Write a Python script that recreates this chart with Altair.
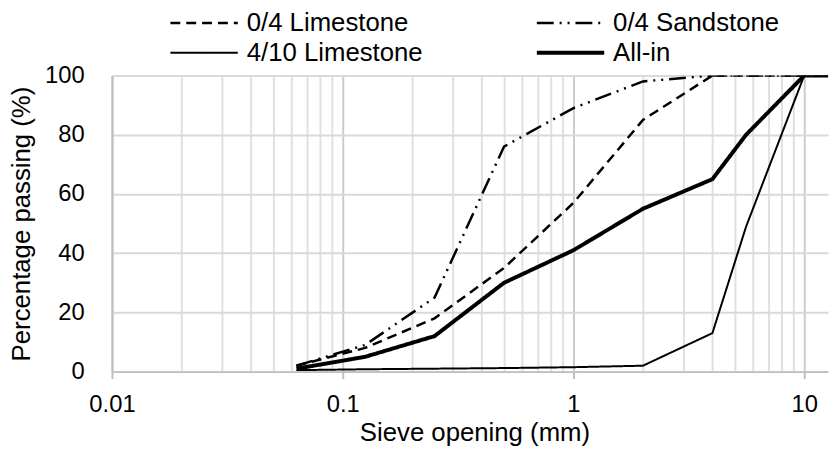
import altair as alt
import pandas as pd

# Sieve openings (mm) and percentage passing for each material
sieve = [0.063, 0.125, 0.25, 0.5, 1, 2, 4, 5.6, 10, 14]
limestone_04 = [2, 8, 18, 35, 57, 85, 100, 100, 100, 100]
sandstone_04 = [2, 9, 25, 76, 89, 98, 100, 100, 100, 100]
limestone_410 = [0.5, 0.8, 1.0, 1.2, 1.5, 2.0, 13, 49, 100, 100]
all_in = [1, 5, 12, 30, 41, 55, 65, 80, 100, 100]

series_names = ["0/4 Limestone", "0/4 Sandstone", "4/10 Limestone", "All-in"]
series_values = [limestone_04, sandstone_04, limestone_410, all_in]
series_dash = [[10, 6], [17, 6, 2, 6, 2, 6], [1, 0], [1, 0]]
series_width = [2.5, 2.5, 2, 4]

x_grid = [0.01, 0.02, 0.03, 0.04, 0.05, 0.06, 0.07, 0.08, 0.09,
          0.1, 0.2, 0.3, 0.4, 0.5, 0.6, 0.7, 0.8, 0.9,
          1, 2, 3, 4, 5, 6, 7, 8, 9, 10]
y_ticks = [0, 20, 40, 60, 80, 100]

rows = []
for name, vals in zip(series_names, series_values):
    for s, v in zip(sieve, vals):
        rows.append({"sieve": s, "passing": v, "series": name})
df = pd.DataFrame(rows)

decade_test = "indexof([0.01, 0.1, 1, 10], datum.value) >= 0"
FONT = "Liberation Sans"

chart = alt.Chart(df).mark_line(color="black", clip=True).encode(
    x=alt.X(
        "sieve:Q",
        scale=alt.Scale(type="log", domain=[0.01, 12.68], nice=False),
        axis=alt.Axis(
            title="Sieve opening (mm)",
            values=x_grid,
            grid=True,
            gridColor={"condition": {"test": decade_test, "value": "#cccccc"}, "value": "#e0e0e0"},
            gridWidth=2,
            labelExpr=f"{decade_test} ? '' + datum.value : ''",
            labelFlush=False,
            labelOverlap=False,
            labelFontSize=24,
            labelPadding=14,
            tickSize=7,
            tickWidth=2,
            tickColor="#bfbfbf",
            tickOpacity={"condition": {"test": decade_test, "value": 1}, "value": 0},
            domainColor="#bfbfbf",
            domainWidth=2,
            titleFontSize=26,
            titlePadding=4,
            titleX=366,
        ),
    ),
    y=alt.Y(
        "passing:Q",
        scale=alt.Scale(domain=[0, 100], nice=False),
        axis=alt.Axis(
            title="Percentage passing (%)",
            values=y_ticks,
            grid=True,
            gridColor="#d9d9d9",
            gridWidth=2,
            tickSize=0,
            labelFontSize=24,
            labelPadding=28,
            domainColor="#bfbfbf",
            domainWidth=2,
            titleFontSize=26,
            titlePadding=10,
        ),
    ),
    strokeDash=alt.StrokeDash(
        "series:N",
        scale=alt.Scale(type="ordinal", domain=series_names, range=series_dash),
        legend=alt.Legend(title=None),
    ),
    strokeWidth=alt.StrokeWidth(
        "series:N",
        scale=alt.Scale(type="ordinal", domain=series_names, range=series_width),
        legend=alt.Legend(title=None),
    ),
).properties(
    width=723,
    height=299,
    autosize=alt.AutoSizeParams(type="none"),
    padding={"left": 105, "top": 66, "right": 2, "bottom": 80},
).configure(
    font=FONT,
).configure_view(
    stroke=None,
).configure_axis(
    labelColor="black",
    titleColor="black",
    titleFontWeight="normal",
    labelFont=FONT,
    titleFont=FONT,
).configure_legend(
    orient="none",
    direction="horizontal",
    legendX=80,
    legendY=-66,
    columns=2,
    columnPadding=107,
    rowPadding=4,
    labelFontSize=26,
    labelFont=FONT,
    labelColor="black",
    labelOffset=30,
    labelLimit=400,
    symbolType="M-4.25,0H4.25",
    symbolSize=256,
    symbolStrokeColor="black",
    padding=0,
)

chart.save("out.html", embed_options={"renderer": "svg", "actions": False})
